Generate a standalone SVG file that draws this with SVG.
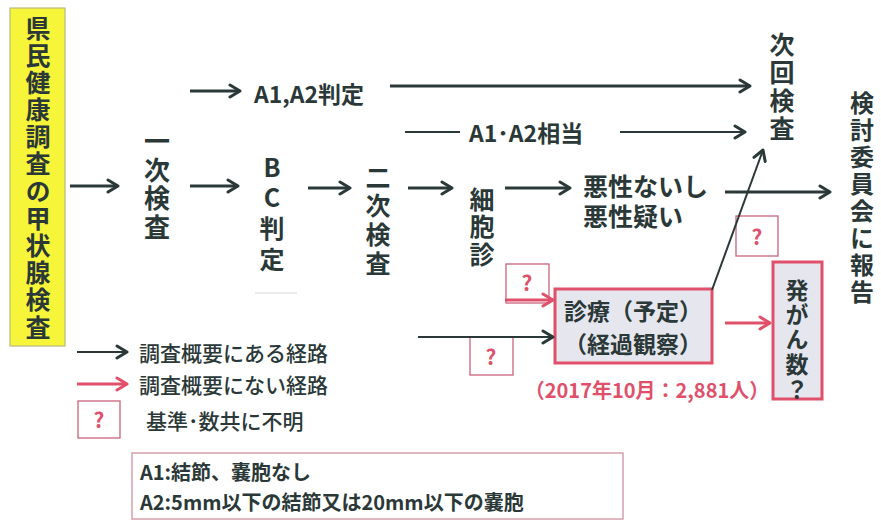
<svg xmlns="http://www.w3.org/2000/svg" width="881" height="520" viewBox="0 0 881 520">
<defs>
<marker id="ah" markerUnits="userSpaceOnUse" markerWidth="16" markerHeight="16" refX="12" refY="8" orient="auto" viewBox="0 0 16 16">
<path d="M2,2 L12,8 L2,14" fill="none" stroke="#2b3838" stroke-width="3" stroke-linecap="round" stroke-linejoin="round"/>
</marker>
<marker id="ahr" markerUnits="userSpaceOnUse" markerWidth="16" markerHeight="16" refX="12" refY="8" orient="auto" viewBox="0 0 16 16">
<path d="M2,2 L12,8 L2,14" fill="none" stroke="#e0506a" stroke-width="3" stroke-linecap="round" stroke-linejoin="round"/>
</marker>
</defs>
<style>
text{font-family:"Noto Sans CJK JP","Noto Sans",sans-serif;fill:#2b3838;}
.v{font-size:25px;font-weight:700;writing-mode:vertical-rl;text-orientation:upright;}
.h{font-size:23px;font-weight:700;dominant-baseline:central;}
.lg{font-size:21px;font-weight:500;dominant-baseline:central;}
.q{font-size:21px;font-weight:700;fill:#e0506a;text-anchor:middle;dominant-baseline:central;}
.red{fill:#e0506a;}
.qb{fill:#fff;stroke:#c9647a;stroke-width:1.3;}
.box{fill:#e6e6ee;stroke:#e0506a;stroke-width:3;}
.k{stroke:#2b3838;stroke-width:3;fill:none;}
.kt{stroke:#2b3838;stroke-width:2;fill:none;}
.r{stroke:#e0506a;stroke-width:3;fill:none;}
.tight{font-family:"Liberation Sans","Noto Sans CJK JP",sans-serif;font-size:25px;}
</style>
<rect width="881" height="520" fill="#fff"/>

<g id="survey">
<rect x="10" y="8" width="55" height="338" fill="#f7f53a" stroke="#b8b87a" stroke-width="1.2"/>
<text class="v" x="38" y="15.5" style="letter-spacing:2.2px">県民健康調査の甲状腺検査</text>
</g>

<g id="first">
<text class="v" x="157" y="128" style="font-size:26px;letter-spacing:2.7px">一次検査</text>
</g>

<g id="bc">
<text class="v" x="272" y="154.5" style="letter-spacing:5.7px">BC判定</text>
<line x1="255" y1="293" x2="297" y2="293" stroke="#e4e4e4" stroke-width="1.5"/>
</g>

<g id="a1a2">
<text class="h" x="254" y="93">A1,A2判定</text>
</g>

<g id="a1a2eq">
<text class="h" x="469" y="132">A1･A2相当</text>
</g>

<g id="second">
<text class="v" x="378" y="164.5" style="letter-spacing:3.7px">二次検査</text>
</g>

<g id="cyto">
<text class="v" x="482" y="186.5" style="letter-spacing:2.5px">細胞診</text>
</g>

<g id="malig">
<text class="h tight" x="583" y="187">悪性ないし</text>
<text class="h tight" x="583" y="217">悪性疑い</text>
</g>

<g id="next">
<text class="v" x="782" y="31.5" style="letter-spacing:3.3px">次回検査</text>
</g>

<g id="report">
<text class="v" x="862" y="91" style="font-size:24px;letter-spacing:3px">検討委員会に報告</text>
</g>

<g id="q1">
<rect class="qb" x="736" y="216" width="42" height="40"/>
<text class="q" x="757" y="236">?</text>
</g>
<g id="q2">
<rect class="qb" x="506" y="264" width="43" height="39"/>
<text class="q" x="527" y="282">?</text>
</g>
<g id="q3">
<rect class="qb" x="470" y="337" width="43" height="38"/>
<text class="q" x="491" y="356">?</text>
</g>

<g id="clinic">
<rect class="box" x="555" y="289" width="157" height="74"/>
<text class="h" x="633" y="310" text-anchor="middle" style="font-size:23px">診療（予定）</text>
<text class="h" x="633" y="343" text-anchor="middle" style="font-size:23px">（経過観察）</text>
<text class="h red" x="647" y="389" text-anchor="middle" style="font-size:20px">（2017年10月：2,881人）</text>
</g>

<g id="cancer">
<rect class="box" x="773" y="262" width="49" height="137"/>
<text class="v" x="797" y="278.5" style="font-size:23px;letter-spacing:1.7px">発がん数？</text>
</g>

<g id="legend">
<text class="lg" x="139" y="352">調査概要にある経路</text>
<text class="lg" x="139" y="384">調査概要にない経路</text>
<rect class="qb" x="78" y="401" width="42" height="37"/>
<text class="q" x="99" y="419">?</text>
<text class="lg" x="146" y="420">基準･数共に不明</text>
</g>

<g id="note">
<rect x="132" y="453" width="491" height="66" fill="#fff" stroke="#d4a0ac" stroke-width="1.5"/>
<text class="lg" x="140" y="471" style="font-weight:700;font-size:20px">A1:結節、嚢胞なし</text>
<text class="lg" x="140" y="501" style="font-weight:700;font-size:20px">A2:5mm以下の結節又は20mm以下の嚢胞</text>
</g>

<g id="connectors">
<line class="k" x1="70" y1="186" x2="118" y2="186" marker-end="url(#ah)"/>
<line class="k" x1="190" y1="186" x2="238" y2="186" marker-end="url(#ah)"/>
<line class="k" x1="190" y1="91" x2="240" y2="91" marker-end="url(#ah)"/>
<line class="k" x1="390" y1="86" x2="750" y2="86" marker-end="url(#ah)"/>
<line class="kt" x1="405" y1="132" x2="460" y2="132"/>
<line class="kt" x1="620" y1="132" x2="745" y2="132" marker-end="url(#ah)"/>
<line class="k" x1="308" y1="188" x2="350" y2="188" marker-end="url(#ah)"/>
<line class="k" x1="408" y1="188" x2="452" y2="188" marker-end="url(#ah)"/>
<line class="k" x1="505" y1="188" x2="570" y2="188" marker-end="url(#ah)"/>
<line class="k" x1="725" y1="192" x2="830" y2="192" marker-end="url(#ah)"/>
<line class="kt" x1="712" y1="290" x2="763" y2="150" marker-end="url(#ah)"/>
<line class="kt" x1="418" y1="337" x2="553" y2="337" marker-end="url(#ah)"/>
<line class="r" x1="505" y1="300" x2="553" y2="300" marker-end="url(#ahr)"/>
<line class="r" x1="725" y1="323" x2="770" y2="323" marker-end="url(#ahr)"/>
<line class="kt" x1="77" y1="352" x2="127" y2="352" marker-end="url(#ah)"/>
<line class="r" x1="77" y1="384" x2="127" y2="384" marker-end="url(#ahr)"/>
</g>
</svg>
